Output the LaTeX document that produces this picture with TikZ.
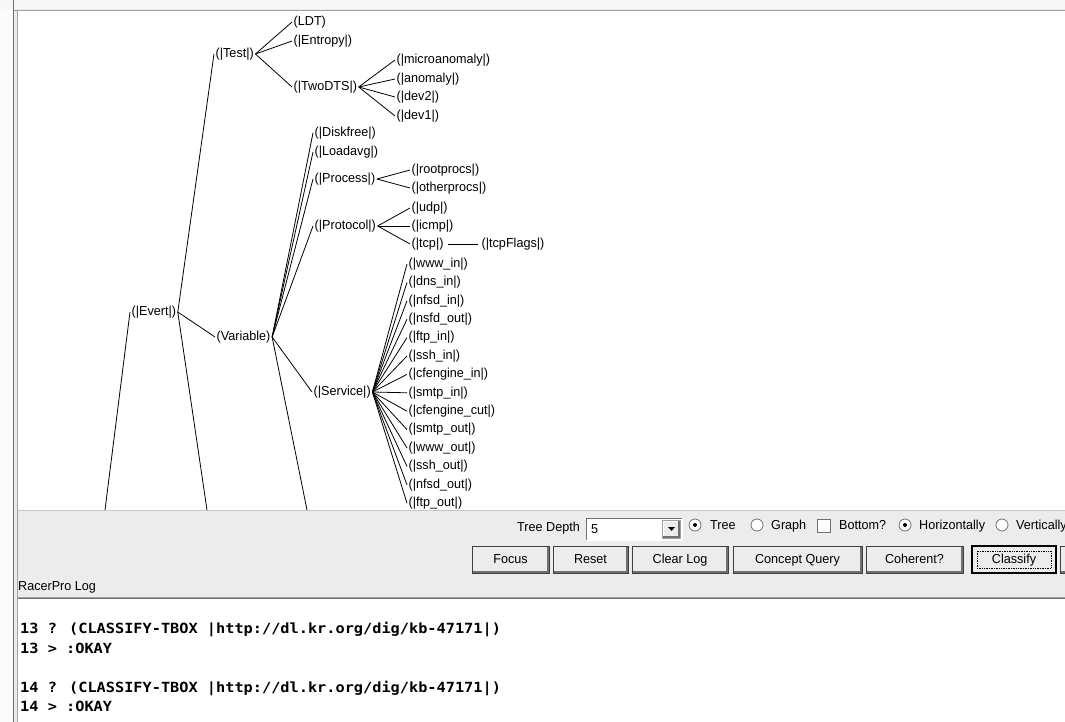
\documentclass[tikz,border=0pt]{standalone}
\usepackage{fontspec}
\setmainfont{Liberation Sans}[FakeStretch=0.97]
\newfontfamily\logfont{DejaVu Sans Mono}[FakeStretch=1.09]
\definecolor{winbg}{HTML}{ECECEC}
\definecolor{edgegray}{HTML}{A0A0A0}
\definecolor{darkgray}{HTML}{707070}
\begin{document}
\begin{tikzpicture}[x=1pt,y=-1pt,
  lbl/.style={anchor=west,inner sep=1.5pt,font=\fontsize{13}{15}\selectfont},
  conn/.style={draw=black,line width=0.8pt},
  uitext/.style={anchor=west,inner sep=0pt,text height=9.5pt,text depth=2.5pt,font=\fontsize{13}{15}\selectfont},
  btn/.style={fill=winbg,draw=black!75,line width=0.8pt,inner sep=0pt,minimum height=27pt,
    text height=9.5pt,text depth=2.5pt,
    font=\fontsize{13}{15}\selectfont,
    path picture={\draw[white,line width=2.4pt] (path picture bounding box.south west) -- (path picture bounding box.north west) -- (path picture bounding box.north east);
      \draw[darkgray,line width=3pt] ([yshift=1pt]path picture bounding box.south west) -- ([xshift=-1pt,yshift=1pt]path picture bounding box.south east) -- ([xshift=-1pt]path picture bounding box.north east);}},
  radio/.style={circle,draw=darkgray,fill=white,minimum size=12pt,inner sep=0pt,line width=0.8pt},
  dot/.style={circle,fill=black,minimum size=4pt,inner sep=0pt},
  logline/.style={anchor=west,inner sep=0pt,font=\logfont\bfseries\fontsize{14}{16}\selectfont}
]
\useasboundingbox (0,0) rectangle (1065,722);
% window background
\fill[winbg] (0,0) rectangle (1065,722);
\fill[white!60!winbg] (0,0) rectangle (1065,9);
\fill[white!80!winbg] (0,9) rectangle (13,722);
% tree panel
\fill[white] (18,10) rectangle (1065,510);
\draw[edgegray] (14,10) -- (1065,10);
\draw[edgegray!60] (18,510.5) -- (1065,510.5);
% log panel
\fill[white] (18,599) rectangle (1065,722);
\draw[edgegray] (18,597) -- (1065,597);
\draw[darkgray] (18,598.5) -- (1065,598.5);
% left double border
\draw[darkgray,line width=1.2pt] (13.5,0) -- (13.5,722);
\draw[edgegray,line width=1pt] (17.5,10) -- (17.5,722);

% ---------------- tree ----------------
\node[lbl] (test) at (214,54) {(|Test|)};
\node[lbl] (ldt) at (292,22) {(LDT)};
\node[lbl] (entropy) at (292,41) {(|Entropy|)};
\node[lbl] (twodts) at (292,87) {(|TwoDTS|)};
\node[lbl] (micro) at (395,60) {(|microanomaly|)};
\node[lbl] (anomaly) at (395,79) {(|anomaly|)};
\node[lbl] (dev2) at (395,97) {(|dev2|)};
\node[lbl] (dev1) at (395,116) {(|dev1|)};
\node[lbl] (diskfree) at (313,133) {(|Diskfree|)};
\node[lbl] (loadavg) at (313,152) {(|Loadavg|)};
\node[lbl] (process) at (313,179) {(|Process|)};
\node[lbl] (rootprocs) at (410,170) {(|rootprocs|)};
\node[lbl] (otherprocs) at (410,188) {(|otherprocs|)};
\node[lbl] (protocol) at (313,226) {(|Protocol|)};
\node[lbl] (udp) at (410,208) {(|udp|)};
\node[lbl] (icmp) at (410,226) {(|icmp|)};
\node[lbl] (tcp) at (410,244) {(|tcp|)};
\node[lbl] (tcpflags) at (480,244) {(|tcpFlags|)};
\node[lbl] (evert) at (130,312) {(|Evert|)};
\node[lbl] (variable) at (215,337) {(Variable)};
\node[lbl] (service) at (312,392) {(|Service|)};
\foreach \t [count=\i from 0] in {www\_in,dns\_in,nfsd\_in,nsfd\_out,ftp\_in,ssh\_in,cfengine\_in,smtp\_in,cfengine\_cut,smtp\_out,www\_out,ssh\_out,nfsd\_out,ftp\_out}
  \node[lbl] (s\i) at (407,{264+18.4*\i}) {(|\t|)};

\coordinate (rootend) at (105,510);
\coordinate (evertbelow) at (207,510);
\coordinate (varbelow) at (307,510);

\draw[conn] (rootend) -- (evert.west);
\draw[conn] (evert.east) -- (test.west);
\draw[conn] (evert.east) -- (variable.west);
\draw[conn] (evert.east) -- (evertbelow);
\foreach \c in {ldt,entropy,twodts} \draw[conn] (test.east) -- (\c.west);
\foreach \c in {micro,anomaly,dev2,dev1} \draw[conn] (twodts.east) -- (\c.west);
\foreach \c in {diskfree,loadavg,process,protocol,service} \draw[conn] (variable.east) -- (\c.west);
\draw[conn] (variable.east) -- (varbelow);
\foreach \c in {rootprocs,otherprocs} \draw[conn] (process.east) -- (\c.west);
\foreach \c in {udp,icmp,tcp} \draw[conn] (protocol.east) -- (\c.west);
\draw[conn] ([xshift=3pt]tcp.east) -- ([xshift=-2pt]tcpflags.west);
\foreach \i in {0,...,13} \draw[conn] (service.east) -- (s\i.west);

% ---------------- toolbar ----------------
\node[uitext] (treedepth) at (517,528) {Tree Depth};
\fill[white] (586,518) rectangle (682,540);
\draw[darkgray] (586,540) -- (586,518) -- (682,518);
\draw[white] (682,518) -- (682,540) -- (586,540);
\node[uitext] (depthval) at (591,530) {5};
\node[btn,draw=edgegray,minimum width=18pt,minimum height=18pt] (dropbtn) at (671.5,529.5) {};
\fill[black] (668,527) -- (675,527) -- (671.5,531) -- cycle;

\node[radio] (rtree) at (695,525) {};
\node[dot] at (rtree) {};
\node[uitext] (ttree) at (710,526) {Tree};
\node[radio] (rgraph) at (757,525) {};
\node[uitext] (tgraph) at (771,526) {Graph};
\node[draw=darkgray,fill=white,minimum size=13pt,inner sep=0pt,line width=0.8pt] (cbottom) at (823.5,525.5) {};
\node[uitext] (tbottom) at (839,526) {Bottom?};
\node[radio] (rhor) at (905,525) {};
\node[dot] at (rhor) {};
\node[uitext] (thor) at (919,526) {Horizontally};
\node[radio] (rver) at (1002,525) {};
\node[uitext] (tver) at (1016,526) {Vertically};

\node[btn,minimum width=77pt] (focus) at (510.5,559.5) {Focus};
\node[btn,minimum width=75pt] (reset) at (590.5,559.5) {Reset};
\node[btn,minimum width=96pt] (clearlog) at (680,559.5) {Clear Log};
\node[btn,minimum width=129pt] (concept) at (797.5,559.5) {Concept Query};
\node[btn,minimum width=97pt] (coherent) at (914.5,559.5) {Coherent?};
\node[btn,minimum width=84pt,draw=black,line width=1.6pt,
  path picture={\draw[black,densely dotted,line width=0.7pt] ([shift={(5pt,-5pt)}]path picture bounding box.north west) rectangle ([shift={(-5pt,5pt)}]path picture bounding box.south east);}] (classify) at (1014,559.5) {Classify};
\node[btn,minimum width=30pt] (nextbtn) at (1075,559.5) {};

% ---------------- log ----------------
\node[uitext] (loglabel) at (18,587) {RacerPro Log};
\node[logline] (l1) at (20,629) {13 ? (CLASSIFY-TBOX |http://dl.kr.org/dig/kb-47171|)};
\node[logline] (l2) at (20,648) {13 > :OKAY};
\node[logline] (l3) at (20,688) {14 ? (CLASSIFY-TBOX |http://dl.kr.org/dig/kb-47171|)};
\node[logline] (l4) at (20,706) {14 > :OKAY};
\end{tikzpicture}
\end{document}
